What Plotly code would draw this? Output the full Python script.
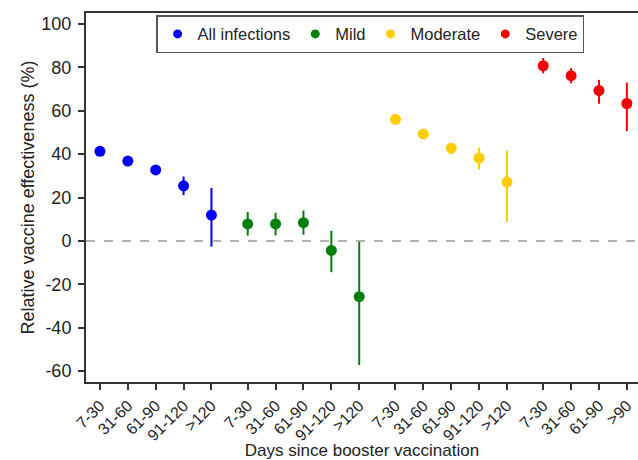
import plotly.graph_objects as go

tick_labels = ["7-30", "31-60", "61-90", "91-120", ">120",
               "7-30", "31-60", "61-90", "91-120", ">120",
               "7-30", "31-60", "61-90", "91-120", ">120",
               "7-30", "31-60", "61-90", ">90"]

y_tickvals = [-60, -40, -20, 0, 20, 40, 60, 80, 100]
y_ticktext = ["-60", "-40", "-20", "0", "20", "40", "60", "80", "100"]

x_all = [0, 1, 2, 3, 4]
x_mild = [5.3, 6.3, 7.3, 8.3, 9.3]
x_mod = [10.6, 11.6, 12.6, 13.6, 14.6]
x_sev = [15.9, 16.9, 17.9, 18.9]

all_ve = [41.3, 36.8, 32.7, 25.4, 11.9]
all_lo = [40.0, 35.5, 30.8, 21.1, -2.6]
all_hi = [42.6, 38.2, 34.6, 29.7, 24.4]

mild_ve = [7.8, 7.8, 8.4, -4.4, -25.7]
mild_lo = [2.4, 2.5, 2.8, -14.4, -57.2]
mild_hi = [13.3, 13.0, 14.0, 4.7, -0.3]

mod_ve = [56.0, 49.2, 42.7, 38.2, 27.1]
mod_lo = [54.6, 47.8, 39.8, 32.9, 8.7]
mod_hi = [57.4, 50.6, 45.0, 43.1, 41.6]

sev_ve = [80.7, 76.1, 69.3, 63.3]
sev_lo = [77.2, 72.6, 63.2, 50.6]
sev_hi = [84.3, 79.6, 74.2, 72.9]

names = ["All infections", "Mild", "Moderate", "Severe"]
colors = ["#0000F5", "#00800A", "#FFCC00", "#F50000"]

groups = [(x_all, all_ve, all_lo, all_hi), (x_mild, mild_ve, mild_lo, mild_hi),
          (x_mod, mod_ve, mod_lo, mod_hi), (x_sev, sev_ve, sev_lo, sev_hi)]

fig = go.Figure()
for (xs, ve, lo, hi), name, col in zip(groups, names, colors):
    fig.add_trace(go.Scatter(
        x=xs, y=ve, mode="markers", showlegend=False, cliponaxis=False,
        marker=dict(color=col, size=11),
        error_y=dict(type="data", symmetric=False,
                     array=[h - v for h, v in zip(hi, ve)],
                     arrayminus=[v - l for v, l in zip(ve, lo)],
                     color=col, thickness=2, width=0)))
    fig.add_trace(go.Scatter(x=[None], y=[None], mode="markers", name=name,
                             marker=dict(color=col, size=9)))

fig.add_hline(y=0, line=dict(color="#999999", width=1.5, dash="dash"))

all_x = x_all + x_mild + x_mod + x_sev
fig.update_layout(
    width=638, height=460,
    margin=dict(l=86, r=0, t=13, b=78),
    plot_bgcolor="white", paper_bgcolor="white",
    font=dict(family="Liberation Sans, Arial", size=17, color="#222222"),
    xaxis=dict(range=[-0.5, 19.3], tickmode="array", tickvals=all_x,
               ticktext=tick_labels, tickangle=-45, ticks="outside",
               ticklen=6, tickwidth=1.5, tickcolor="#333333",
               showline=True, linecolor="#333333", linewidth=2, mirror=True,
               showgrid=False, zeroline=False, automargin=False,
               tickfont=dict(size=16),
               title=dict(text="Days since booster vaccination", font=dict(size=17), standoff=4)),
    yaxis=dict(range=[-65, 105], tickmode="array", tickvals=y_tickvals, ticktext=y_ticktext,
               ticks="outside", ticklen=6, tickwidth=1.5, tickcolor="#333333",
               showline=True, linecolor="#333333", linewidth=2, automargin=False,
               showgrid=False, zeroline=False, tickfont=dict(size=18),
               ticklabelstandoff=3,
               title=dict(text="Relative vaccine effectiveness (%)", font=dict(size=18), standoff=2)),
    legend=dict(orientation="h", x=0.127, y=0.994, xanchor="left", yanchor="top",
                bordercolor="#555555", borderwidth=1.5, bgcolor="white",
                font=dict(size=16.5), itemwidth=30, tracegroupgap=0,
                itemsizing="trace"),
)

fig.write_html("out.html", config={"displayModeBar": False},
               post_script="document.body.style.margin='0';document.body.style.overflow='hidden';")
